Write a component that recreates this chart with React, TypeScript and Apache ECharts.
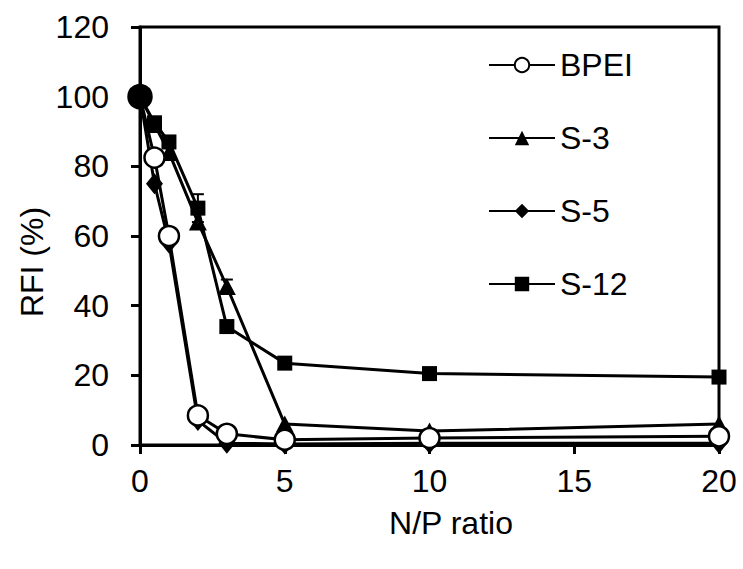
import React, { useEffect, useRef } from "react";
import * as echarts from "echarts";

const npRatios = [0, 0.5, 1, 2, 3, 5, 10, 20];
const bpei = [100, 82.5, 60, 8.5, 3.2, 1.5, 2, 2.5];
const s3 = [100, 92, 84, 64, 45.5, 6, 4, 6];
const s5 = [100, 75, 58, 7, 0.5, 0.3, 0.5, 0.5];
const s12 = [100, 92.5, 87, 68, 34, 23.5, 20.5, 19.5];
const s12Err = [0, 0, 0, 4, 0, 0, 0, 0];
const s3Err = [0, 0, 0, 0, 2, 0, 0, 0];
const seriesNames = ["BPEI", "S-3", "S-5", "S-12"];
const xTicks = [0, 5, 10, 15, 20];
const yTicks = [0, 20, 40, 60, 80, 100, 120];
const xTitle = "N/P ratio";
const yTitle = "RFI (%)";

const FONT = "Liberation Sans, Arial, sans-serif";
const FS = 32;
const LW = 3;

export default function App() {
  const ref = useRef<HTMLDivElement>(null);
  useEffect(() => {
    document.body.style.margin = "0";
    const chart = echarts.init(ref.current!, undefined, { renderer: "svg" });
    const pair = (ys: number[]) => npRatios.map((x, i) => [x, ys[i]]);
    const errData: number[][] = [];
    npRatios.forEach((x, i) => {
      if (s12Err[i] > 0) errData.push([x, s12[i] - s12Err[i], s12[i] + s12Err[i]]);
      if (s3Err[i] > 0) errData.push([x, s3[i] - s3Err[i], s3[i] + s3Err[i]]);
    });
    const base = {
      type: "line",
      lineStyle: { color: "#000", width: LW },
      itemStyle: { color: "#000", borderColor: "#000", borderWidth: 0 },
      z: 3,
    };
    chart.setOption({
      animation: false,
      backgroundColor: "#fff",
      grid: {
        left: 140,
        right: 24,
        top: 27,
        bottom: 124,
        show: true,
        borderColor: "#000",
        borderWidth: LW,
      },
      legend: {
        orient: "vertical",
        left: 483,
        top: 44,
        itemWidth: 66,
        itemHeight: 18,
        itemGap: 41,
        textStyle: { fontSize: FS, lineHeight: 32, color: "#000", fontFamily: FONT },
        data: seriesNames,
      },
      xAxis: {
        type: "value",
        min: 0,
        max: 20,
        interval: 5,
        axisLine: { lineStyle: { color: "#000", width: LW } },
        axisTick: { show: true, inside: false, length: 9, lineStyle: { color: "#000", width: LW } },
        axisLabel: {
          fontSize: FS,
          color: "#000",
          fontFamily: FONT,
          margin: 20,
          formatter: (v: number) => (xTicks.includes(v) ? String(v) : ""),
        },
        splitLine: { show: false },
      },
      yAxis: {
        type: "value",
        min: 0,
        max: 120,
        interval: 20,
        axisLine: { show: true, lineStyle: { color: "#000", width: LW } },
        axisTick: { show: true, inside: false, length: 9, lineStyle: { color: "#000", width: LW } },
        axisLabel: {
          fontSize: FS,
          color: "#000",
          fontFamily: FONT,
          margin: 31,
          formatter: (v: number) => (yTicks.includes(v) ? String(v) : ""),
        },
        splitLine: { show: false },
      },
      graphic: [
        {
          type: "text",
          x: 32,
          y: 262,
          rotation: Math.PI / 2,
          style: {
            text: yTitle,
            fontSize: FS,
            fill: "#000",
            fontFamily: FONT,
            textAlign: "center",
            textVerticalAlign: "middle",
          },
        },
        {
          type: "text",
          x: 451,
          y: 523,
          style: {
            text: xTitle,
            fontSize: FS,
            fill: "#000",
            fontFamily: FONT,
            textAlign: "center",
            textVerticalAlign: "middle",
          },
        },
      ],
      series: [
        {
          type: "custom",
          name: "err",
          z: 2,
          data: errData,
          renderItem: (params: any, api: any) => {
            const x = api.value(0);
            const lo = api.coord([x, api.value(1)]);
            const hi = api.coord([x, api.value(2)]);
            const cap = 6;
            const st = { stroke: "#000", lineWidth: 2 };
            return {
              type: "group",
              children: [
                { type: "line", shape: { x1: lo[0], y1: lo[1], x2: hi[0], y2: hi[1] }, style: st },
                { type: "line", shape: { x1: hi[0] - cap, y1: hi[1], x2: hi[0] + cap, y2: hi[1] }, style: st },
                { type: "line", shape: { x1: lo[0] - cap, y1: lo[1], x2: lo[0] + cap, y2: lo[1] }, style: st },
              ],
            };
          },
        },
        {
          ...base,
          name: "S-12",
          symbol: "rect",
          symbolSize: 15,
          data: pair(s12),
        },
        {
          ...base,
          name: "S-5",
          symbol: "diamond",
          symbolSize: [17, 21],
          data: pair(s5),
        },
        {
          ...base,
          name: "S-3",
          symbol: "triangle",
          symbolSize: [18, 17],
          data: pair(s3),
        },
        {
          ...base,
          name: "BPEI",
          symbol: "circle",
          symbolSize: 20,
          itemStyle: { color: "#fff", borderColor: "#000", borderWidth: 2.5 },
          data: npRatios.map((x, i) =>
            i === 0
              ? { value: [x, bpei[i]], itemStyle: { color: "#000" }, symbolSize: 23 }
              : [x, bpei[i]]
          ),
          z: 4,
        },
      ],
    });
    return () => chart.dispose();
  }, []);
  return <div ref={ref} style={{ width: 743, height: 569 }} />;
}
